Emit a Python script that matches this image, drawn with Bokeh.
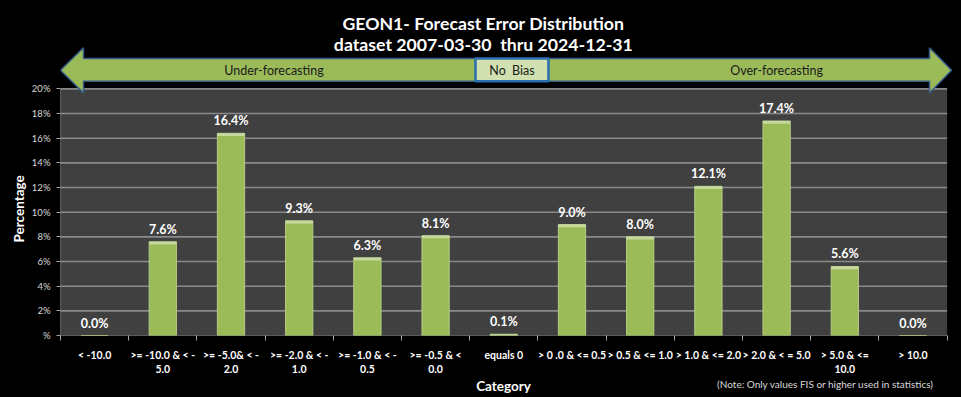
from bokeh.plotting import figure
from bokeh.layouts import column
from bokeh.models import Range1d, FixedTicker, Title
from bokeh.core.properties import value
from bokeh.embed import file_html
from bokeh.resources import INLINE

categories = ["< -10.0", ">= -10.0 & < -\n5.0", ">= -5.0& < -\n2.0", ">= -2.0 & < -\n1.0",
              ">= -1.0 & < -\n0.5", ">= -0.5 & <\n0.0", "equals 0", "> 0 .0 & <= 0.5",
              "> 0.5 & <= 1.0", "> 1.0 & <= 2.0", "> 2.0 & < = 5.0", "> 5.0 & <=\n10.0", "> 10.0"]
values = [0.0, 7.6, 16.4, 9.3, 6.3, 8.1, 0.1, 9.0, 8.0, 12.1, 17.4, 5.6, 0.0]
y_ticks = [0, 2, 4, 6, 8, 10, 12, 14, 16, 18, 20]
y_tick_labels = ["%", "2%", "4%", "6%", "8%", "10%", "12%", "14%", "16%", "18%", "20%"]
title_lines = ["GEON1- Forecast Error Distribution", "dataset 2007-03-30 \u00a0thru 2024-12-31"]
banner_texts = ["Under-forecasting", "No \u00a0Bias", "Over-forecasting"]
x_title = "Category"
y_title = "Percentage"
note = "(Note: Only values FIS or higher used in statistics)"

FONT = value("Lato")
n = len(categories)
idx = list(range(n))
YMAX = 20
Y_TOP = YMAX * 341 / 251.0
X_END = -0.5 + 892 / 68.2

p = figure(width=961, height=377, output_backend="svg", toolbar_location=None,
           x_range=Range1d(-0.5, X_END), y_range=Range1d(0, Y_TOP),
           min_border_left=60, min_border_right=9, min_border_top=0, min_border_bottom=36)
p.background_fill_color = "black"
p.border_fill_color = "black"
p.outline_line_color = None
p.xgrid.visible = False
p.ygrid.visible = False

# plot area background
p.quad(left=[-0.5], right=[n - 0.5], bottom=[0], top=[YMAX], fill_color="#404040", line_color=None)
# gridlines
p.segment(x0=[-0.5] * (len(y_ticks) - 1), x1=[n - 0.5] * (len(y_ticks) - 1),
          y0=y_ticks[1:], y1=y_ticks[1:], line_color="#8a8a8a", line_width=1.6)
# axis lines
p.segment(x0=[-0.5, -0.5], x1=[-0.5, n - 0.5], y0=[0, 0], y1=[YMAX, 0], line_color="#a6a6a6", line_width=1)

# bars (with a lighter bevel strip at the top)
p.vbar(x=idx, top=values, width=0.4, bottom=0, fill_color="#9bbb59", line_color="#b5cc83", line_width=1)
p.vbar(x=idx, top=values, bottom=[max(v - 0.22, 0) for v in values], width=0.4,
       fill_color="#c5d99f", line_color=None)
p.text(x=idx, y=values, text=[f"{v:.1f}%" for v in values], text_align="center", text_baseline="bottom",
       y_offset=-5, text_font=FONT, text_font_style="bold", text_font_size="12.5px", text_color="white")

# arrow banner
ax = [-0.5, -0.163, -0.163, 12.242, 12.242, 12.565, 12.242, 12.242, -0.163, -0.163]
ay = [21.51, 23.34, 22.46, 22.46, 23.34, 21.51, 19.67, 20.63, 20.63, 19.67]
p.patch(x=ax, y=ay, fill_color="#9bbb59", line_color="#385d8a", line_width=1.5)
p.quad(left=[5.585], right=[6.655], bottom=[20.63], top=[22.46], fill_color="#d0e0b0",
       line_color="#2a6fb0", line_width=2.5)
p.text(x=[2.63, 6.12, 10.0], y=[21.5, 21.5, 21.5], text=banner_texts,
       text_align="center", text_baseline="middle", text_font=FONT, text_color="#1a1a1a",
       text_font_size="12.5px")

# title
p.text(x=[5.70, 5.70], y=[25.33, 23.58], text=title_lines, text_align="center", text_baseline="middle",
       text_font=FONT, text_font_style="bold", text_font_size="17.7px", text_color="white")

# axes
p.xaxis.ticker = FixedTicker(ticks=idx, minor_ticks=[i - 0.5 for i in range(n + 1)])
p.xaxis.major_label_overrides = {i: c for i, c in enumerate(categories)}
p.xaxis.major_tick_line_color = None
p.xaxis.major_tick_in = 0
p.xaxis.major_tick_out = 0
p.xaxis.minor_tick_line_color = "#a6a6a6"
p.xaxis.minor_tick_in = 0
p.xaxis.minor_tick_out = 5
p.xaxis.axis_line_color = None
p.xaxis.major_label_standoff = 8
p.xaxis.major_label_text_color = "white"
p.xaxis.major_label_text_font = "Lato"
p.xaxis.major_label_text_font_size = "10.5px"
p.xaxis.major_label_text_font_style = "bold"

p.yaxis.ticker = FixedTicker(ticks=y_ticks, minor_ticks=[])
p.yaxis.major_label_overrides = {t: l for t, l in zip(y_ticks, y_tick_labels)}
p.yaxis.major_tick_line_color = "#a6a6a6"
p.yaxis.major_tick_in = 0
p.yaxis.major_tick_out = 4
p.yaxis.axis_line_color = None
p.yaxis.major_label_standoff = 6
p.yaxis.major_label_text_color = "#d9d9d9"
p.yaxis.major_label_text_font = "Lato"
p.yaxis.major_label_text_font_size = "9.5px"

p.add_layout(Title(text=y_title, align="left", offset=93, text_font="Lato", text_font_style="bold",
                   text_font_size="13.5px", text_color="white", standoff=4), "left")

# footer row with the x-axis title and the note
f = figure(width=961, height=20, output_backend="svg", toolbar_location=None,
           x_range=p.x_range, y_range=Range1d(0, 20),
           x_axis_location=None, y_axis_location=None,
           min_border_left=60, min_border_right=9, min_border_top=0, min_border_bottom=0)
f.background_fill_color = "black"
f.border_fill_color = "black"
f.outline_line_color = None
f.xgrid.visible = False
f.ygrid.visible = False
f.text(x=[5.996], y=[12], text=[x_title], text_align="center", text_baseline="middle",
       text_font=FONT, text_font_style="bold", text_font_size="13.5px", text_color="white")
f.text(x=[10.717], y=[14], text=[note], text_align="center", text_baseline="middle",
       text_font=FONT, text_font_size="10px", text_color="#d9d9d9")

layout = column(p, f, spacing=0)
html = file_html(layout, INLINE)
html = html.replace("</head>", "<style>html, body { background-color: #000000; }</style></head>", 1)
open("out.html", "w").write(html)
